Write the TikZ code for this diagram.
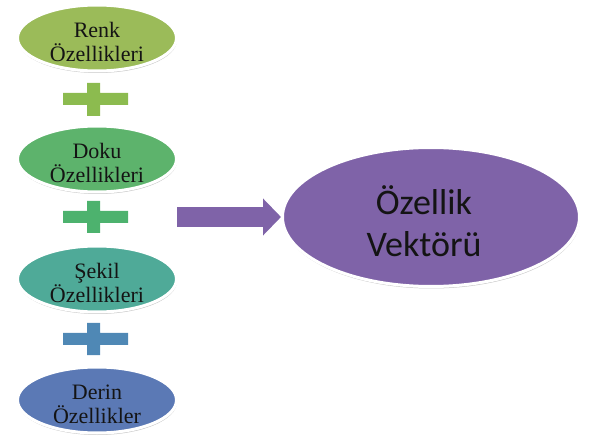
\documentclass[tikz,border=0pt]{standalone}
\usepackage{fontspec}
\setmainfont{Liberation Serif}
\newfontfamily\carlito{Carlito}
\usetikzlibrary{shapes.geometric,shadows,arrows.meta}
\definecolor{renkC}{HTML}{9BBB59}
\definecolor{dokuC}{HTML}{5DB36C}
\definecolor{sekilC}{HTML}{4FAA98}
\definecolor{derinC}{HTML}{5B79B5}
\definecolor{plusA}{HTML}{8CBB4F}
\definecolor{plusB}{HTML}{4DB26E}
\definecolor{plusC}{HTML}{4F88B5}
\definecolor{purC}{HTML}{7F63A8}
\definecolor{txtC}{HTML}{141414}
\tikzset{
  ell/.style={ellipse, draw=white, line width=3pt, inner sep=0pt,
    minimum width=159pt, minimum height=66pt,
    drop shadow={shadow xshift=0.5pt, shadow yshift=-2pt, opacity=0.22, fill=black}},
  lbl/.style={align=center, inner sep=0pt, text=txtC,
    font=\fontsize{22}{24}\selectfont},
  bigell/.style={ellipse, draw=white, line width=3pt, inner sep=0pt, fill=purC,
    minimum width=297pt, minimum height=139pt,
    drop shadow={shadow xshift=0.5pt, shadow yshift=-2pt, opacity=0.22, fill=black}},
  biglbl/.style={align=center, inner sep=0pt, text=txtC,
    font=\carlito\fontsize{36}{42}\selectfont},
}
\begin{document}
\begin{tikzpicture}[x=1pt,y=-1pt]
\useasboundingbox (0,0) rectangle (590,441);
% plus signs
\fill[plusA] (63,93) rectangle (128,105) (87,83) rectangle (100,116);
\fill[plusB] (63,211) rectangle (128,223) (87,201) rectangle (100,233);
\fill[plusC] (63,333) rectangle (128,345) (87,323) rectangle (100,355);
% ellipses
\node[ell, fill=renkC] (renk) at (97,38) {};
\node[lbl] (renkT) at (97,42) {Renk\\Özellikleri};
\node[ell, fill=dokuC] (doku) at (97,159) {};
\node[lbl] (dokuT) at (97,163) {Doku\\Özellikleri};
\node[ell, fill=sekilC] (sekil) at (97,279) {};
\node[lbl] (sekilT) at (97,283) {Şekil\\Özellikleri};
\node[ell, fill=derinC] (derin) at (97,400) {};
\node[lbl] (derinT) at (97,404) {Derin\\Özellikler};
% big ellipse
\node[bigell] (vek) at (431,217) {};
\node[biglbl] (vekT) at (424,221) {Özellik\\Vektörü};
% arrow
\coordinate (astart) at (177,217);
\draw[purC, line width=20pt, -{Triangle[width=36pt,length=18pt]}] (astart) -- (astart -| vek.west);
\end{tikzpicture}
\end{document}
